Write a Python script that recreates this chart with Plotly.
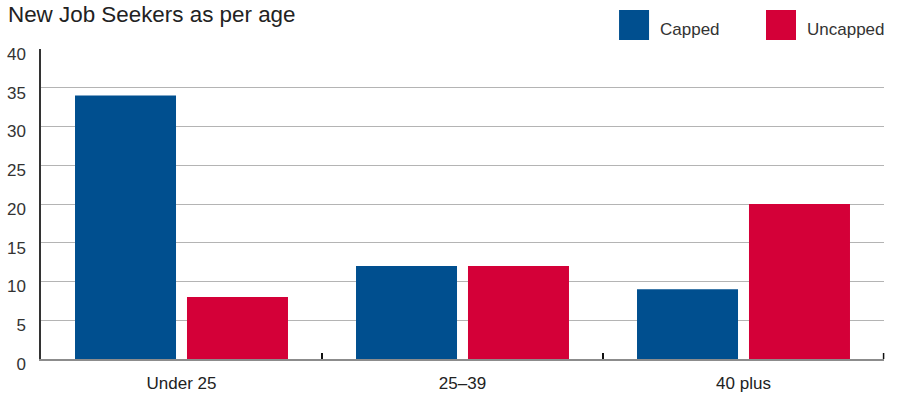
import plotly.graph_objects as go

# Share of new job seekers by age band
categories = ["Under 25", "25–39", "40 plus"]
capped = [34, 12, 9]
uncapped = [8, 12, 20]
series_names = ["Capped", "Uncapped"]
y_ticks = [0, 5, 10, 15, 20, 25, 30, 35, 40]

BLUE = "#004F8F"
RED = "#D40038"
FONT = "Liberation Sans, Arial, Helvetica, sans-serif"

fig = go.Figure()
fig.add_trace(go.Bar(name=series_names[0], x=categories, y=capped,
                     marker=dict(color=BLUE, line=dict(width=0))))
fig.add_trace(go.Bar(name=series_names[1], x=categories, y=uncapped,
                     marker=dict(color=RED, line=dict(width=0))))

fig.update_layout(
    width=899, height=394,
    margin=dict(l=41, r=15, t=49, b=35, autoexpand=False),
    paper_bgcolor="white", plot_bgcolor="white",
    barmode="group", bargap=0.203, bargroupgap=0.098,
    showlegend=False,
    font=dict(family=FONT, size=17, color="#333"),
    title=dict(text="New Job Seekers as per age", xref="container", yref="container",
               x=8 / 899, xanchor="left", y=1 - 14 / 394, yanchor="middle",
               font=dict(family=FONT, size=22.4, color="#222")),
)

fig.update_xaxes(
    automargin=False,
    showline=True, linecolor="#8c8c8c", linewidth=1.5,
    ticks="inside", tickson="boundaries", ticklen=6, tickwidth=1.5, tickcolor="#111",
    showgrid=False, ticklabelstandoff=8,
    tickfont=dict(family=FONT, size=17, color="#222"),
)
fig.update_yaxes(
    automargin=False,
    range=[0, 40], tickvals=y_ticks,
    showgrid=True, gridcolor="#b4b4b4", gridwidth=1,
    zeroline=False, showline=True, linecolor="#333", linewidth=1.5,
    ticks="", ticklabelstandoff=10, ticklabelshift=5,
    tickfont=dict(family=FONT, size=17, color="#333"),
)

# Closing tick at the right end of the category axis
fig.add_shape(type="line", xref="paper", yref="paper",
              x0=0.9995, x1=0.9995, y0=0, y1=6 / 310,
              line=dict(color="#111", width=1.5))

# Custom legend: large swatches with labels above the plot, right side
legend_items = [(series_names[0], BLUE, 0.6857), (series_names[1], RED, 0.8600)]
for name, color, x0 in legend_items:
    fig.add_shape(type="rect", xref="paper", yref="paper",
                  x0=x0, x1=x0 + 0.0356, y0=1.029, y1=1.1258,
                  fillcolor=color, line=dict(width=0))
    fig.add_annotation(text=name, xref="paper", yref="paper",
                       x=x0 + 0.0462, y=1.0613, xanchor="left", yanchor="middle",
                       showarrow=False, font=dict(family=FONT, size=17, color="#333"))

fig.write_html("out.html")
